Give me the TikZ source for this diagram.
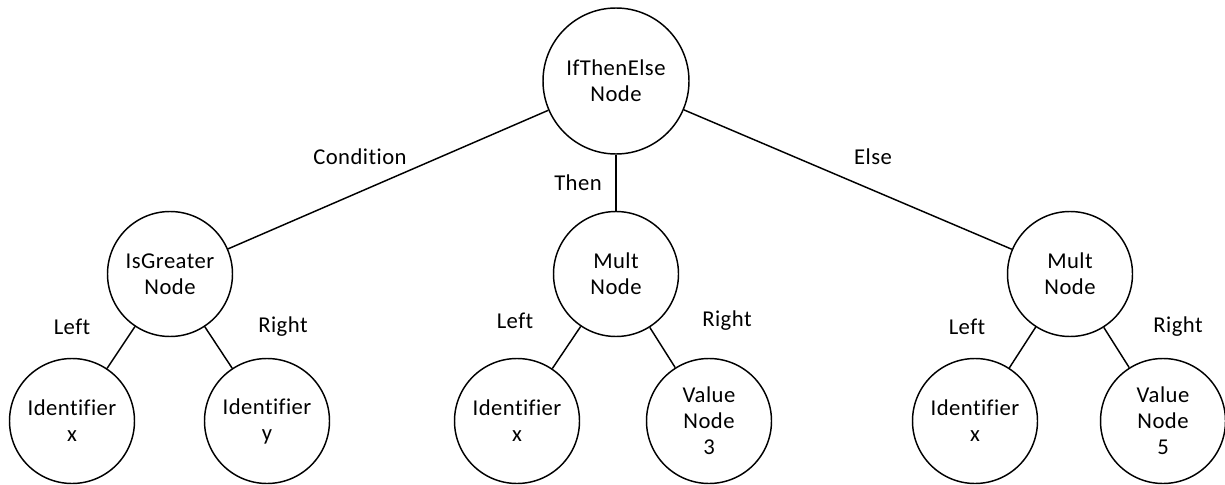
\documentclass[tikz,border=0pt]{standalone}
\usepackage{fontspec}
\setmainfont[Ligatures=NoCommon, LetterSpace=2]{Carlito}
\usepackage{tikz}

\tikzset{
  treenode/.style={circle, draw, line width=1.1pt, minimum size=93.75pt, inner sep=0pt, align=center, font=\fontsize{17}{19.5}\selectfont},
  rootnode/.style={treenode, minimum size=109.5pt},
  edgelabel/.style={inner sep=0pt, font=\fontsize{17}{19.5}\selectfont},
  branch/.style={line width=1.1pt}
}

\begin{document}
\begin{tikzpicture}[x=0.75pt, y=-0.75pt]
 \useasboundingbox (0,0) rectangle (1225,485);
 % tree nodes
 \node[rootnode] (ite) at (616,81) {IfThenElse\\Node};
 \node[treenode] (isg) at (170,274) {IsGreater\\Node};
 \node[treenode] (multA) at (616,274) {Mult\\Node};
 \node[treenode] (multB) at (1070,274) {Mult\\Node};
 \node[treenode] (idX) at (72,421) {Identifier\\x};
 \node[treenode] (idY) at (267,421) {Identifier\\y};
 \node[treenode] (idXa) at (517,421) {Identifier\\x};
 \node[treenode] (valA) at (709,421) {Value\\Node\\3};
 \node[treenode] (idXb) at (975,421) {Identifier\\x};
 \node[treenode] (valB) at (1163,421) {Value\\Node\\5};
 % branches
 \draw[branch] (ite) -- (isg);
 \draw[branch] (ite) -- (multA);
 \draw[branch] (ite) -- (multB);
 \draw[branch] (isg) -- (idX);
 \draw[branch] (isg) -- (idY);
 \draw[branch] (multA) -- (idXa);
 \draw[branch] (multA) -- (valA);
 \draw[branch] (multB) -- (idXb);
 \draw[branch] (multB) -- (valB);
 % branch labels
 \node[edgelabel] (lCond) at (360,157) {Condition};
 \node[edgelabel] (lThen) at (578,183) {Then};
 \node[edgelabel] (lElse) at (873,157) {Else};
 \node[edgelabel] (lLeftA) at (72,327) {Left};
 \node[edgelabel] (lRightA) at (283,327) {Right};
 \node[edgelabel] (lLeftB) at (515,321) {Left};
 \node[edgelabel] (lRightB) at (727,321) {Right};
 \node[edgelabel] (lLeftC) at (967,327) {Left};
 \node[edgelabel] (lRightC) at (1178,327) {Right};
\end{tikzpicture}
\end{document}
